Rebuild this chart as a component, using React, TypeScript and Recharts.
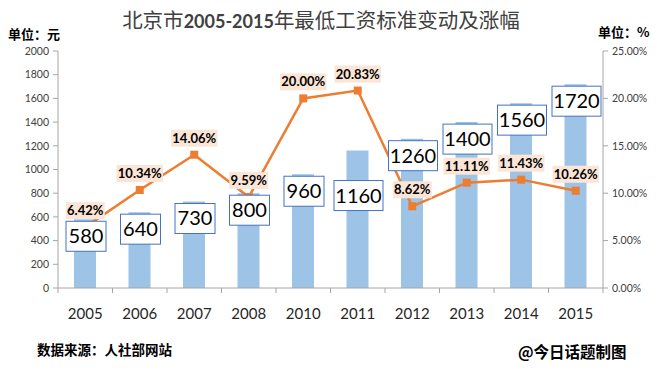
import React from "react";
import { ComposedChart, Bar, Line, XAxis, YAxis, LabelList } from "recharts";

const years = ["2005", "2006", "2007", "2008", "2010", "2011", "2012", "2013", "2014", "2015"];
const wages = [580, 640, 730, 800, 960, 1160, 1260, 1400, 1560, 1720];
const rates = [6.42, 10.34, 14.06, 9.59, 20.0, 20.83, 8.62, 11.11, 11.43, 10.26];
const wageTicks = [0, 200, 400, 600, 800, 1000, 1200, 1400, 1600, 1800, 2000];
const rateTicks = [0, 5, 10, 15, 20, 25];

const data = years.map((year, i) => ({ year, wage: wages[i], rate: rates[i] }));

const ORANGE = "#ED7D31";
const AXIS = "#A6A6A6";
const NUM_FONT = "Lato, 'Noto Sans', sans-serif";
const CJK_FONT = "'Noto Sans CJK SC', sans-serif";

function YearTick(props: any) {
  const { x, y, payload, index, visibleTicksCount } = props;
  const half = payload.offset || 27;
  const last = index === visibleTicksCount - 1;
  return (
    <g>
      <line x1={x - half} x2={x - half} y1={y} y2={y + 5} stroke={AXIS} />
      {last && <line x1={x + half} x2={x + half} y1={y} y2={y + 5} stroke={AXIS} />}
      <text x={x} y={y + 31} textAnchor="middle" fontSize={15} fill="#262626" fontFamily={NUM_FONT}>
        {payload.value}
      </text>
    </g>
  );
}

// boxed wage value just under the top of each bar
function WageLabel(props: any) {
  const { x, y, width, value, index } = props;
  const w = value >= 1000 ? 49 : 40;
  const h = 30;
  const cx = x + width / 2 + 1;
  const top = y + (index === 5 ? 30 : 2);
  return (
    <g>
      <rect x={cx - w / 2} y={top} width={w} height={h} fill="#fff" stroke="#4472C4" strokeWidth={1} />
      <text x={cx} y={top + h / 2 + 7} textAnchor="middle" fontSize={20} fill="#000" fontFamily={NUM_FONT}>
        {value}
      </text>
    </g>
  );
}

// percentage on a peach box above each point
function RateLabel(props: any) {
  const { x, y, value } = props;
  const txt = `${Number(value).toFixed(2)}%`;
  const w = txt.length * 7.4 + 2;
  const h = 17;
  const top = y - 8 - h;
  return (
    <g>
      <rect x={x - w / 2} y={top} width={w} height={h} fill="#FBE5D6" />
      <text x={x} y={top + 13} textAnchor="middle" fontSize={13} fontWeight={700} fill="#000" fontFamily={NUM_FONT}>
        {txt}
      </text>
    </g>
  );
}

function SquareDot(props: any) {
  const { cx, cy } = props;
  return <rect x={cx - 4} y={cy - 4} width={8} height={8} fill={ORANGE} />;
}

export default function App() {
  return (
    <div style={{ position: "absolute", left: 0, top: 0, width: 660, height: 378, background: "#fff" }}>
      <div
        style={{
          position: "absolute",
          left: 0,
          top: 4,
          width: 642,
          textAlign: "center",
          fontFamily: CJK_FONT,
          fontSize: 20.5,
          fontWeight: 400,
          color: "#404040",
          whiteSpace: "nowrap",
        }}
      >
        北京市
        <span style={{ fontFamily: NUM_FONT, fontWeight: 700, fontSize: 18 }}>2005-2015</span>
        年最低工资标准变动及涨幅
      </div>
      <div style={{ position: "absolute", left: 8, top: 24, fontFamily: CJK_FONT, fontSize: 13, fontWeight: 700 }}>
        单位：元
      </div>
      <div style={{ position: "absolute", left: 598, top: 22, fontFamily: CJK_FONT, fontSize: 13, fontWeight: 700 }}>
        单位：%
      </div>
      <ComposedChart width={660} height={378} data={data} margin={{ top: 51, right: 0, bottom: 60, left: 0 }}>
        <XAxis
          dataKey="year"
          tick={<YearTick />}
          tickLine={false}
          tickSize={0}
          tickMargin={0}
          stroke={AXIS}
          height={30}
          interval={0}
        />
        <YAxis
          yAxisId="left"
          domain={[0, 2000]}
          ticks={wageTicks}
          width={58}
          stroke={AXIS}
          tick={{ fontSize: 10.5, fill: "#404040", fontFamily: NUM_FONT }}
          tickSize={5}
          tickMargin={4}
        />
        <YAxis
          yAxisId="right"
          orientation="right"
          domain={[0, 25]}
          ticks={rateTicks}
          tickFormatter={(v: number) => `${v.toFixed(2)}%`}
          width={57}
          stroke={AXIS}
          tick={{ fontSize: 10.5, fill: "#404040", fontFamily: NUM_FONT }}
          tickSize={5}
          tickMargin={4}
        />
        <Bar yAxisId="left" dataKey="wage" fill="#9DC3E6" barSize={22} isAnimationActive={false}>
          <LabelList dataKey="wage" content={<WageLabel />} />
        </Bar>
        <Line
          yAxisId="right"
          type="linear"
          dataKey="rate"
          stroke={ORANGE}
          strokeWidth={2.5}
          dot={<SquareDot />}
          activeDot={false}
          isAnimationActive={false}
        >
          <LabelList dataKey="rate" content={<RateLabel />} />
        </Line>
      </ComposedChart>
      <div style={{ position: "absolute", left: 37, top: 339, fontFamily: CJK_FONT, fontSize: 13.5, fontWeight: 700 }}>
        数据来源：人社部网站
      </div>
      <div style={{ position: "absolute", left: 518, top: 340, fontFamily: CJK_FONT, fontSize: 15.5, fontWeight: 700 }}>
        @今日话题制图
      </div>
    </div>
  );
}
